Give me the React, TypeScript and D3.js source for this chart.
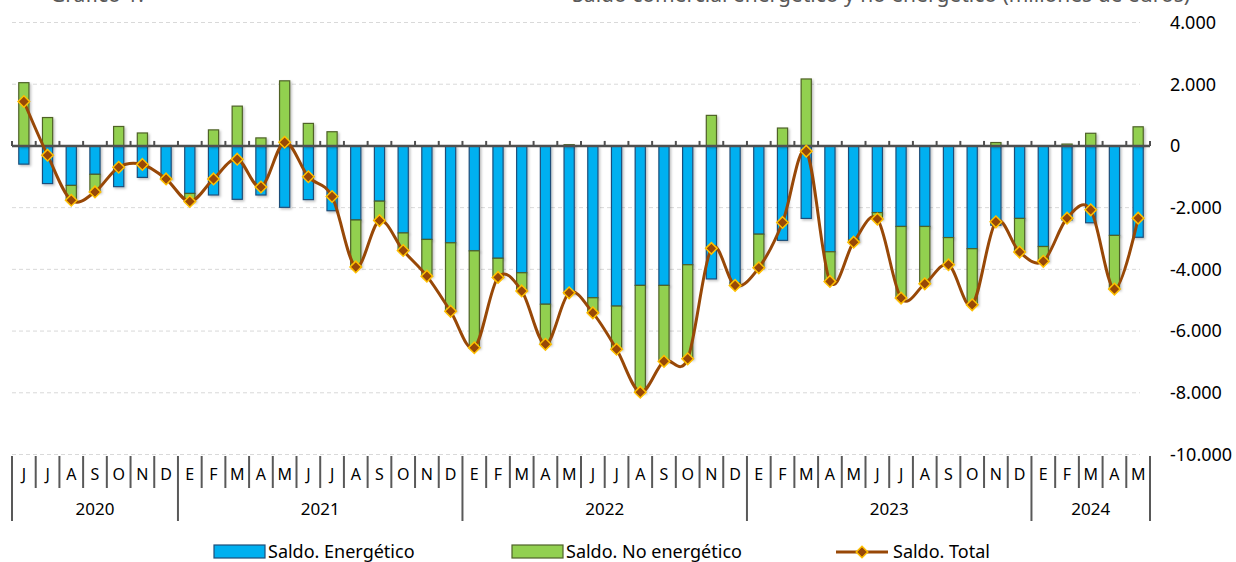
import * as d3 from 'd3';
import { FunctionComponent } from "react";

// months Jun 2020 .. May 2024
const monthLabels = [
    'J', 'J', 'A', 'S', 'O', 'N', 'D',
    'E', 'F', 'M', 'A', 'M', 'J', 'J', 'A', 'S', 'O', 'N', 'D',
    'E', 'F', 'M', 'A', 'M', 'J', 'J', 'A', 'S', 'O', 'N', 'D',
    'E', 'F', 'M', 'A', 'M', 'J', 'J', 'A', 'S', 'O', 'N', 'D',
    'E', 'F', 'M', 'A', 'M'
];
const years = ['2020', '2021', '2022', '2023', '2024'];
const monthsPerYear = [7, 12, 12, 12, 5];

const energetico = [
    -590, -1220, -1280, -920, -1320, -1020, -1040,
    -1540, -1590, -1730, -1590, -1990, -1740, -2100, -2400, -1790, -2820, -3030, -3140,
    -3400, -3640, -4110, -5130, -4790, -4920, -5190, -4520, -4520, -3850, -4310, -4440,
    -2860, -3060, -2350, -3430, -3040, -2160, -2610, -2610, -2970, -3330, -2570, -2350,
    -3260, -2400, -2490, -2900, -2960
];
const noEnergetico = [
    2050, 920, -470, -570, 630, 420, -30,
    -260, 520, 1290, 260, 2110, 730, 460, -1520, -630, -570, -1190, -2220,
    -3140, -620, -590, -1300, 40, -490, -1400, -3460, -2460, -3050, 990, -80,
    -1090, 580, 2170, -960, -80, -210, -2320, -1860, -880, -1820, 110, -1090,
    -480, 60, 410, -1740, 620
];
const total = [
    1440, -300, -1760, -1490, -690, -600, -1070,
    -1800, -1070, -430, -1330, 120, -1000, -1640, -3920, -2420, -3390, -4220, -5360,
    -6540, -4260, -4700, -6430, -4760, -5410, -6590, -7980, -6980, -6900, -3320, -4520,
    -3950, -2480, -170, -4390, -3120, -2370, -4930, -4470, -3850, -5150, -2460, -3440,
    -3740, -2340, -2070, -4640, -2340
];
const yTicks = [4000, 2000, 0, -2000, -4000, -6000, -8000, -10000];

const seriesNames = ['Saldo. Energético', 'Saldo. No energético', 'Saldo. Total'];
const blue = '#00B0F0';
const blueStroke = '#1F4E79';
const green = '#92D050';
const greenStroke = '#4F6228';
const brown = '#984807';
const gold = '#FFC000';

const font = '"Noto Sans", sans-serif';

const App: FunctionComponent = () => {
    const width = 1236;
    const height = 562;
    const left = 12;
    const right = 1150;

    const x = d3.scaleBand<number>()
        .domain(d3.range(monthLabels.length))
        .range([left, right])
        .padding(0);
    const step = x.step();
    const barW = step * 0.43;

    const y = d3.scaleLinear([-10000, 4000], [454.5, 22.5]);

    const fmt = d3.formatLocale({ decimal: ',', thousands: '.', grouping: [3], currency: ['', ''], minus: '-' }).format(',');

    const rows = monthLabels.map((_, i) => ({ i, e: energetico[i], ne: noEnergetico[i] }));
    const stacked = d3.stack<{ i: number, e: number, ne: number }>()
        .keys(['e', 'ne'])
        .offset(d3.stackOffsetDiverging)(rows);

    const cx = (i: number) => (x(i) ?? 0) + step / 2;

    const line = d3.line<number>()
        .x((_, i) => cx(i))
        .y(d => y(d))
        .curve(d3.curveCardinal.tension(0));

    const diamond = d3.symbol().type(d3.symbolDiamond2).size(85)();

    // year boundaries
    const yearStarts: number[] = [];
    let acc = 0;
    monthsPerYear.forEach(n => { yearStarts.push(acc); acc += n; });

    return (
        <svg width={width} height={height} style={{ position: 'absolute', left: 0, top: 0, background: '#fff' }}
            fontFamily={font}>
            <defs>
                <filter id="shadow" x="-20%" y="-5%" width="160%" height="115%">
                    <feDropShadow dx="1.5" dy="1.5" stdDeviation="0.8" floodColor="#000" floodOpacity="0.25" />
                </filter>
            </defs>
            {/* title, cut off at the top as in the source */}
            <text x={50} y={2} fontSize={21} fill="#595959">Gráfico 1.</text>
            <text x={1190} y={2} fontSize={21} fill="#595959" textAnchor="end">Saldo comercial energético y no energético (millones de euros)</text>

            {/* gridlines */}
            {yTicks.filter(t => t !== 0).map(t => (
                <line key={t} x1={left} x2={1140} y1={y(t)} y2={y(t)} stroke="#D9D9D9" strokeWidth={1} strokeDasharray="4,3" />
            ))}

            {/* y tick labels */}
            {yTicks.map(t => (
                <text key={t} x={1170} y={y(t)} dy="0.35em" fontSize={18} fill="#000">{fmt(t)}</text>
            ))}

            {/* stacked bars */}
            {stacked.map((s, k) => (
                <g key={s.key} filter="url(#shadow)">
                    {s.map((d, i) => {
                        const y0 = y(Math.max(d[0], d[1]));
                        const y1 = y(Math.min(d[0], d[1]));
                        if (y1 - y0 < 0.5) return null;
                        return <rect key={i} x={cx(i) - barW / 2} y={y0} width={barW} height={y1 - y0}
                            fill={k === 0 ? blue : green} stroke={k === 0 ? blueStroke : greenStroke} strokeWidth={1.2} />;
                    })}
                </g>
            ))}

            {/* zero axis */}
            <line x1={left} x2={right} y1={y(0)} y2={y(0)} stroke="#505050" strokeWidth={2.5} />
            {d3.range(monthLabels.length + 1).map(i => (
                <line key={i} x1={left + i * step} x2={left + i * step} y1={y(0)} y2={y(0) - 5} stroke="#505050" strokeWidth={2} />
            ))}

            {/* total line */}
            <path d={line(total) ?? ''} fill="none" stroke={brown} strokeWidth={3} />
            {total.map((v, i) => (
                <path key={i} d={diamond ?? ''} transform={`translate(${cx(i)},${y(v)})`} fill={brown} stroke={gold} strokeWidth={1.5} />
            ))}

            {/* category axis */}
            {d3.range(monthLabels.length + 1).map(i => {
                const isYear = yearStarts.includes(i) || i === monthLabels.length;
                return <line key={i} x1={left + i * step} x2={left + i * step} y1={456} y2={isYear ? 521 : 488}
                    stroke="#595959" strokeWidth={2} />;
            })}
            {monthLabels.map((m, i) => (
                <text key={i} x={cx(i)} y={474} dy="0.35em" textAnchor="middle" fontSize={16} fill="#000">{m}</text>
            ))}
            {years.map((yr, j) => {
                const a = left + yearStarts[j] * step;
                const b = a + monthsPerYear[j] * step;
                return <text key={yr} x={(a + b) / 2} y={509} dy="0.35em" textAnchor="middle" fontSize={17} fill="#000">{yr}</text>;
            })}

            {/* legend */}
            <rect x={214} y={545} width={51} height={13} fill={blue} stroke={blueStroke} strokeWidth={1.2} />
            <text x={268} y={552} dy="0.35em" fontSize={18} fill="#000">{seriesNames[0]}</text>
            <rect x={512} y={545} width={51} height={13} fill={green} stroke={greenStroke} strokeWidth={1.2} />
            <text x={566} y={552} dy="0.35em" fontSize={18} fill="#000">{seriesNames[1]}</text>
            <line x1={836} x2={888} y1={552} y2={552} stroke={brown} strokeWidth={3} />
            <path d={diamond ?? ''} transform="translate(862,552)" fill={brown} stroke={gold} strokeWidth={1.5} />
            <text x={893} y={552} dy="0.35em" fontSize={18} fill="#000">{seriesNames[2]}</text>
        </svg>
    );
};

export default App;
